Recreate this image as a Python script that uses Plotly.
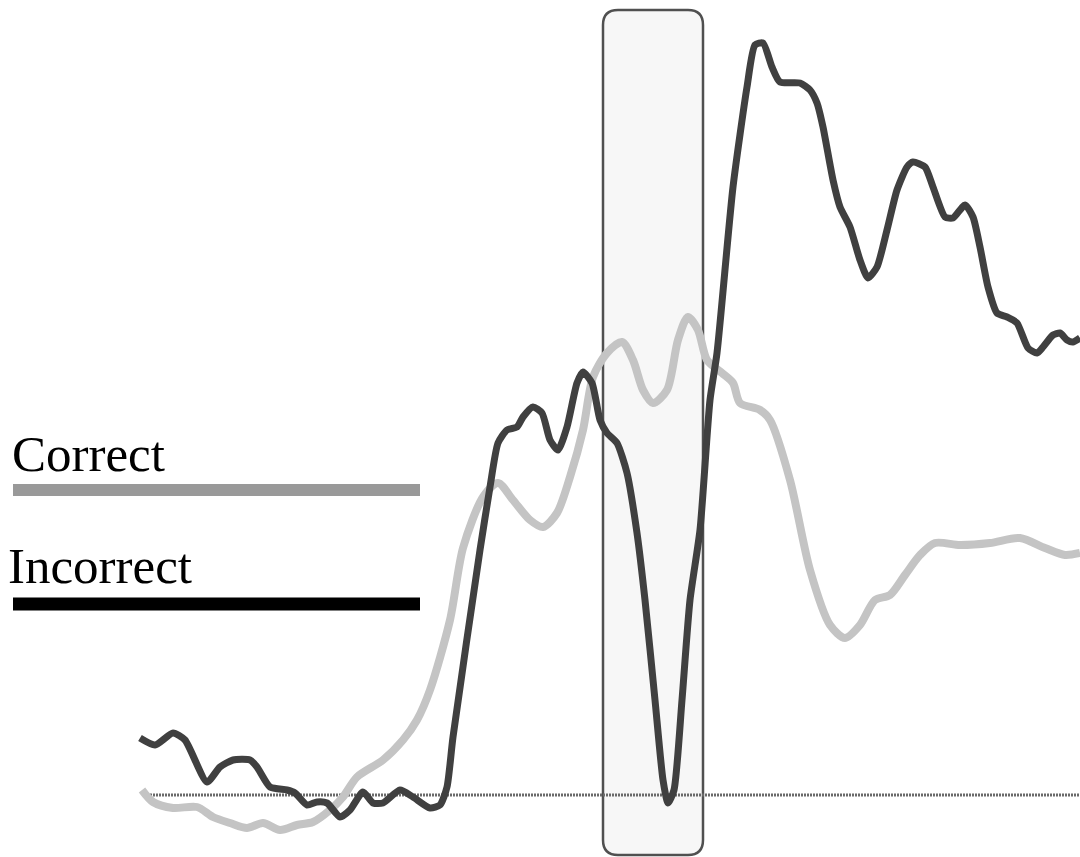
import plotly.graph_objects as go

# time (ms) and amplitude (µV) readings
correct_t = [-101, -90, -70, -46, -30, -13, 4, 20, 37, 54, 70, 87, 100, 114, 140, 160, 174, 187, 207, 220,
             240, 255, 270, 287, 300, 314, 327, 340, 350, 364, 379, 390, 400, 410, 424, 435, 445, 455, 464, 479,
             490, 497, 517, 527, 547, 567, 587, 602, 617, 632, 647, 662, 677, 692, 717, 747, 777, 802, 822, 837]
correct_v = [0.05, -0.07, -0.13, -0.12, -0.22, -0.28, -0.33, -0.28, -0.35, -0.30, -0.27, -0.15, -0.02, 0.18, 0.35, 0.55, 0.75, 1.05, 1.75, 2.47,
             2.98, 3.12, 2.95, 2.75, 2.68, 2.82, 3.18, 3.65, 4.18, 4.42, 4.53, 4.35, 4.05, 3.92, 4.05, 4.55, 4.78, 4.65, 4.35, 4.22,
             4.12, 3.92, 3.85, 3.75, 3.15, 2.25, 1.70, 1.57, 1.70, 1.95, 2.00, 2.20, 2.40, 2.52, 2.50, 2.52, 2.57, 2.47, 2.40, 2.42]

incorrect_t = [-103, -88, -70, -58, -36, -23, -10, 7, 14, 27, 44, 52, 64, 74, 84, 97, 107, 120, 130, 140,
               157, 170, 187, 197, 204, 210, 237, 247, 255, 264, 274, 280, 290, 299, 307, 315, 324, 334, 340, 349,
               357, 364, 374, 384, 394, 402, 412, 420, 425, 431, 439, 447, 457, 467, 474, 490, 504, 512, 520, 529,
               537, 557, 567, 574, 580, 590, 597, 607, 617, 625, 634, 644, 654, 664, 670, 682, 690, 702, 710, 722,
               730, 737, 745, 754, 764, 774, 785, 794, 800, 810, 817, 824, 830, 837]
incorrect_v = [0.57, 0.50, 0.62, 0.55, 0.13, 0.28, 0.35, 0.35, 0.28, 0.08, 0.05, 0.02, -0.10, -0.07, -0.08, -0.22, -0.15, 0.03, -0.08, -0.08,
               0.05, -0.02, -0.13, -0.10, 0.08, 0.58, 2.45, 3.08, 3.52, 3.65, 3.68, 3.78, 3.88, 3.82, 3.55, 3.45, 3.68, 4.12, 4.23, 4.12,
               3.75, 3.62, 3.52, 3.22, 2.62, 1.95, 0.95, 0.15, -0.08, 0.05, 0.95, 1.95, 2.65, 3.95, 4.42, 6.08, 7.08, 7.50, 7.52, 7.28,
               7.13, 7.12, 7.05, 6.92, 6.68, 6.15, 5.88, 5.68, 5.35, 5.17, 5.28, 5.65, 6.05, 6.28, 6.33, 6.28, 6.08, 5.78, 5.77, 5.90,
               5.78, 5.48, 5.08, 4.82, 4.78, 4.72, 4.47, 4.42, 4.48, 4.60, 4.62, 4.55, 4.53, 4.57]

window_start, window_end = 360, 460      # highlighted analysis window (ms)
baseline_start = -93

fig = go.Figure()
fig.add_trace(go.Scatter(x=correct_t, y=correct_v, mode="lines",
                         line=dict(color="#c4c4c4", width=8, shape="spline", smoothing=0.8),
                         showlegend=False, hoverinfo="skip"))
fig.add_trace(go.Scatter(x=incorrect_t, y=incorrect_v, mode="lines",
                         line=dict(color="#404040", width=7, shape="spline", smoothing=0.6),
                         showlegend=False, hoverinfo="skip"))

# rounded window rectangle
x0, x1, y0, y1 = window_start, window_end, -0.60, 7.85
rx, ry = 15, 0.15
path = (f"M {x0+rx} {y1} L {x1-rx} {y1} Q {x1} {y1} {x1} {y1-ry} "
        f"L {x1} {y0+ry} Q {x1} {y0} {x1-rx} {y0} "
        f"L {x0+rx} {y0} Q {x0} {y0} {x0} {y0+ry} "
        f"L {x0} {y1-ry} Q {x0} {y1} {x0+rx} {y1} Z")
fig.add_shape(type="path", path=path, xref="x", yref="y", layer="below",
              fillcolor="#f7f7f7", line=dict(color="#505050", width=2.5))
# zero baseline
fig.add_shape(type="line", x0=baseline_start, x1=837, y0=0, y1=0, xref="x", yref="y", layer="below",
              line=dict(color="#6a6a6a", width=3, dash="2px,1px"))

H, W = 857, 1080
# legend lines
fig.add_shape(type="line", xref="paper", yref="paper", x0=13/W, x1=420/W, y0=1-490/H, y1=1-490/H,
              line=dict(color="#999999", width=12))
fig.add_shape(type="line", xref="paper", yref="paper", x0=13/W, x1=420/W, y0=1-604/H, y1=1-604/H,
              line=dict(color="#000000", width=13))
fig.add_annotation(text="Correct", xref="paper", yref="paper", x=10/W, y=1-454/H,
                   xanchor="left", yanchor="middle", showarrow=False,
                   font=dict(family="Liberation Serif", size=51, color="#000"))
fig.add_annotation(text="Incorrect", xref="paper", yref="paper", x=6/W, y=1-566/H,
                   xanchor="left", yanchor="middle", showarrow=False,
                   font=dict(family="Liberation Serif", size=51, color="#000"))

fig.update_layout(width=W, height=H, margin=dict(l=0, r=0, t=0, b=0),
                  paper_bgcolor="white", plot_bgcolor="white",
                  xaxis=dict(range=[-243, 837], visible=False),
                  yaxis=dict(range=[-0.62, 7.95], visible=False))
fig.write_html("out.html", config={"displayModeBar": False, "staticPlot": True},
               post_script="document.body.style.margin='0';document.body.style.overflow='hidden';")
